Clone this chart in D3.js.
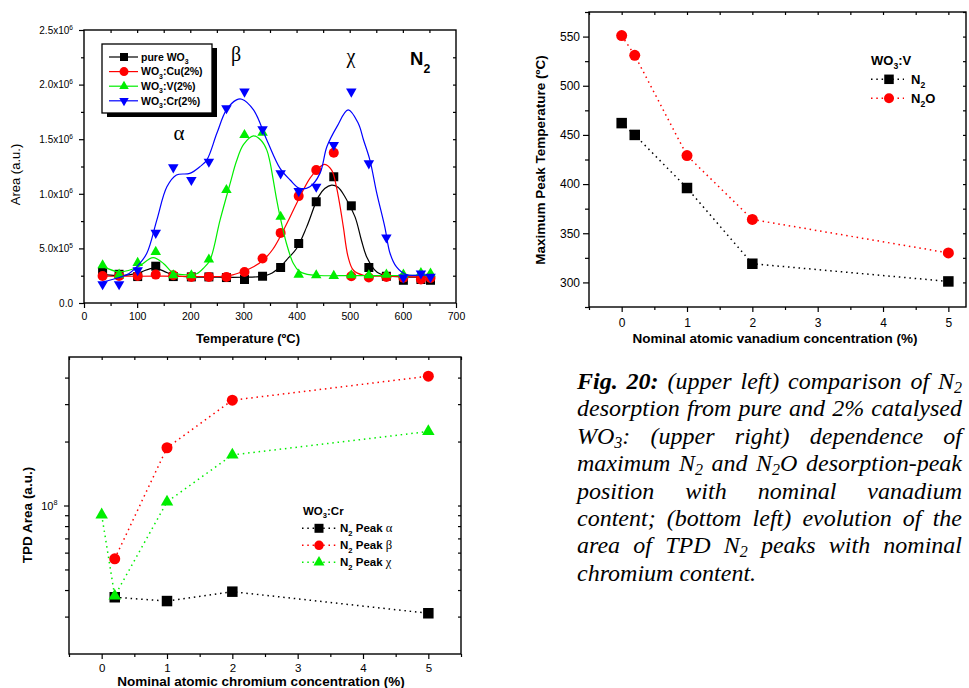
<!DOCTYPE html>
<html>
<head>
<meta charset="utf-8">
<title>Fig. 20 - N2 TPD on catalysed WO3</title>
<script src="https://cdn.jsdelivr.net/npm/d3@7/dist/d3.min.js"></script>
<style>
  html, body { margin: 0; padding: 0; background: #fff; }
  #fig { position: relative; width: 969px; height: 688px; overflow: hidden; background: #fff; }
  #fig svg { position: absolute; left: 0; top: 0; }
  .caption { position: absolute; left: 577px; top: 368px; width: 385px;
    font-family: "Liberation Serif", "Times New Roman", serif; font-style: italic; font-size: 24px; color: #000; }
  .caption .ln { position: absolute; left: 0; white-space: nowrap; line-height: 27.4px; }
  .caption sub { font-size: 16px; vertical-align: -4px; line-height: 0; }
  .caption b { font-weight: bold; }
</style>
</head>
<body>
<div id="fig"></div>
<script>
// ---------- upper left: N2 TPD peak areas vs temperature (area in 10^3 a.u.) ----------
const tpdTemps = [35, 66, 101, 135, 168, 202, 235, 268, 302, 336, 370, 404, 437, 470, 503, 536, 569, 601, 634, 652];
const pureArea = [284, 263, 242, 337, 242, 239, 239, 233, 215, 245, 325, 545, 927, 1156, 890, 325, 245, 208, 215, 208];
const cuArea   = [248, 248, 248, 260, 254, 239, 239, 239, 284, 407, 642, 979, 1217, 1376, 245, 233, 239, 232, 215, 230];
const vArea    = [346, 260, 367, 468, 254, 254, 398, 1034, 1538, 1560, 789, 260, 254, 248, 254, 254, 260, 260, 275, 270];
const crArea   = [172, 172, 300, 642, 1242, 1126, 1294, 1783, 1936, 1591, 1187, 1025, 1064, 1447, 1936, 1279, 600, 233, 270, 239];

// fitted envelopes [temperature, area]
const pureFit = [[35,262],[60,252],[85,258],[105,280],[125,315],[135,318],[150,292],[170,252],[200,240],[250,236],[300,236],[330,242],[350,265],[369,330],[385,415],[400,499],[419,697],[441,972],[453,1049],[466,1080],[478,1060],[491,973],[510,789],[522,575],[532,422],[551,284],[570,250],[600,240],[655,238]];
const cuFit   = [[35,245],[100,245],[150,246],[200,243],[260,245],[280,258],[300,291],[320,335],[337,392],[355,490],[369,606],[385,760],[400,912],[425,1141],[441,1233],[453,1270],[466,1217],[475,1064],[482,880],[488,697],[497,422],[507,300],[526,254],[560,245],[620,240],[655,238]];
const vFit    = [[35,335],[65,285],[85,300],[103,335],[130,415],[150,360],[165,285],[180,262],[200,260],[212,268],[225,320],[237,392],[256,759],[275,1095],[287,1300],[300,1450],[319,1530],[333,1490],[344,1400],[350,1290],[356,1130],[362,960],[369,789],[381,545],[394,361],[405,290],[420,262],[440,252],[500,250],[600,252],[655,258]];
const crFit   = [[35,193],[65,231],[85,270],[99,330],[118,453],[137,759],[156,1064],[174,1172],[199,1187],[218,1248],[231,1309],[250,1554],[268,1768],[287,1860],[297,1866],[319,1768],[344,1493],[369,1233],[388,1126],[406,1049],[425,1064],[444,1187],[457,1431],[476,1615],[497,1768],[516,1646],[526,1493],[538,1309],[551,1004],[566,697],[576,453],[588,330],[606,260],[630,255],[655,258]];

const tempTicks = [0, 100, 200, 300, 400, 500, 600, 700];
const areaTicks = [0, 500, 1000, 1500, 2000, 2500];
const areaTickLabels = ["0.0", "5.0x10{^5}", "1.0x10{^6}", "1.5x10{^6}", "2.0x10{^6}", "2.5x10{^6}"];

// ---------- upper right: peak temperature vs vanadium content ----------
const vConc = [0, 0.2, 1, 2, 5];
const vN2PeakT = [462, 450, 396, 319, 301];
const vN2OPeakT = [551, 531, 429, 364, 330];
const concTicks = [0, 1, 2, 3, 4, 5];
const peakTTicks = [300, 350, 400, 450, 500, 550];

// ---------- bottom left: TPD N2 peak areas vs chromium content ----------
const crConcAB = [0.2, 1, 2, 5];
const crPeakAlpha = [3.70e7, 3.55e7, 3.93e7, 3.11e7];
const crPeakBeta = [5.61e7, 1.87e8, 3.13e8, 4.06e8];
const crConcChi = [0, 0.2, 1, 2, 5];
const crPeakChi = [9.04e7, 3.75e7, 1.04e8, 1.73e8, 2.23e8];
const tpdAreaTicks = [1e8];
const tpdAreaTickLabels = ["10{^8}"];

const captionLines = [
  '<b>Fig. 20:</b> (upper left) comparison of N<sub>2</sub>',
  'desorption from pure and 2% catalysed',
  'WO<sub>3</sub>: (upper right) dependence of',
  'maximum N<sub>2</sub> and N<sub>2</sub>O desorption-peak',
  'position with nominal vanadium',
  'content; (bottom left) evolution of the',
  'area of TPD N<sub>2</sub> peaks with nominal',
  'chromium content.'
];

// ---------- helpers ----------
const SANS = '"Liberation Sans", Arial, sans-serif';
const SERIF = '"Liberation Serif", "Times New Roman", serif';

// writes "{_x}" as subscript, "{^x}" as superscript, "{gx}" in serif
function rich(sel, str, fs, subDrop = 0.3) {
  const parts = str.split(/(\{[_^g][^}]*\})/).filter(s => s.length);
  let cur = 0;
  for (const p of parts) {
    const m = p.match(/^\{([_^g])(.*)\}$/);
    let target = 0, size = fs, txt = p, serif = false;
    if (m) {
      txt = m[2];
      if (m[1] === "_") { target = subDrop * fs; size = 0.66 * fs; }
      else if (m[1] === "^") { target = -0.42 * fs; size = 0.66 * fs; }
      else { serif = true; size = fs * 1.1; }
    }
    const t = sel.append("tspan").text(txt).attr("font-size", size);
    if (target !== cur) { t.attr("dy", target - cur); cur = target; }
    if (serif) t.attr("font-family", SERIF).attr("font-weight", "normal");
  }
}

function symPath(kind, s) {
  if (kind === "square") return d3.symbol(d3.symbolSquare, s * s)();
  if (kind === "circle") return d3.symbol(d3.symbolCircle, Math.PI * s * s / 4)();
  return d3.symbol(d3.symbolTriangle, Math.sqrt(3) / 4 * s * s)();
}
const symRot = kind => kind === "down" ? " rotate(180)" : "";

function addAxis(g, orient, scale, at, values, size, opt = {}) {
  const make = { bottom: d3.axisBottom, top: d3.axisTop, left: d3.axisLeft, right: d3.axisRight }[orient];
  const gen = make(scale).tickValues(values).tickSizeInner(size).tickSizeOuter(0)
    .tickPadding(opt.pad ?? 3).tickFormat(() => "");
  const horiz = orient === "bottom" || orient === "top";
  const a = g.append("g").attr("transform", horiz ? `translate(0,${at})` : `translate(${at},0)`).call(gen);
  a.select(".domain").remove();
  a.selectAll(".tick line").attr("stroke", "#000").attr("stroke-width", 1.2);
  if (opt.labels) {
    a.attr("font-family", SANS).attr("font-size", opt.fs);
    a.selectAll(".tick text").attr("fill", "#000")
      .each(function (d, i) { rich(d3.select(this), opt.labels[i], opt.fs); });
  }
  return a;
}

function frame(g, x, y) {
  const [xa, xb] = x.range(), [ya, yb] = y.range();
  g.append("rect").attr("x", xa).attr("y", yb).attr("width", xb - xa).attr("height", ya - yb)
    .attr("fill", "none").attr("stroke", "#000").attr("stroke-width", 1.4);
}

function label(g, x, y, str, fs, o = {}) {
  const t = g.append("text").attr("x", x).attr("y", y)
    .attr("font-family", o.family || SANS).attr("font-size", fs)
    .attr("font-weight", o.bold ? "bold" : "normal").attr("text-anchor", o.anchor || "start").attr("fill", "#000");
  if (o.rotate) t.attr("transform", `rotate(-90,${x},${y})`);
  rich(t, str, fs, o.subDrop);
  return t;
}

const svg = d3.select("#fig").append("svg").attr("width", 969).attr("height", 688);

// ================= upper left panel =================
const x1 = d3.scaleLinear().domain([0, 700]).range([84, 456]);
const y1 = d3.scaleLinear().domain([0, 2500]).range([303, 30]);
const g1 = svg.append("g");
addAxis(g1, "bottom", x1, 303, tempTicks, 5, { pad: 4.5, labels: tempTicks.map(String), fs: 10.5 });
addAxis(g1, "bottom", x1, 303, d3.range(50, 700, 100), 3);
addAxis(g1, "left", y1, 84, areaTicks, 5, { pad: 6, labels: areaTickLabels, fs: 10 });
addAxis(g1, "left", y1, 84, d3.range(250, 2500, 500), 3);
addAxis(g1, "top", x1, 30, d3.range(50, 700, 50), -3);
addAxis(g1, "right", y1, 456, d3.range(250, 2500, 250), -3);

const series1 = [
  { name: "pure WO{_3}", color: "#000000", sym: "square", size: 9, area: pureArea, fit: pureFit },
  { name: "WO{_3}:Cu(2%)", color: "#ff0000", sym: "circle", size: 10, area: cuArea, fit: cuFit },
  { name: "WO{_3}:V(2%)", color: "#00ee00", sym: "up", size: 10.5, area: vArea, fit: vFit },
  { name: "WO{_3}:Cr(2%)", color: "#0000ff", sym: "down", size: 10.5, area: crArea, fit: crFit }
];
const fitLine = d3.line().x(d => x1(d[0])).y(d => y1(d[1])).curve(d3.curveCatmullRom.alpha(0.5));
series1.forEach(s => {
  g1.append("path").attr("d", fitLine(s.fit)).attr("fill", "none")
    .attr("stroke", s.color).attr("stroke-width", 1.2);
  g1.append("g").selectAll("path").data(tpdTemps.map((t, i) => [t, s.area[i]])).join("path")
    .attr("transform", d => `translate(${x1(d[0])},${y1(d[1])})` + symRot(s.sym))
    .attr("d", symPath(s.sym, s.size)).attr("fill", s.color);
});
frame(g1, x1, y1);

// legend with drop shadow
const lg1 = g1.append("g");
lg1.append("rect").attr("x", 107).attr("y", 48).attr("width", 110).attr("height", 69).attr("fill", "#000");
lg1.append("rect").attr("x", 102).attr("y", 44).attr("width", 110).attr("height", 69)
  .attr("fill", "#fff").attr("stroke", "#000").attr("stroke-width", 1.3);
series1.forEach((s, i) => {
  const yy = 57 + i * 14.6;
  lg1.append("line").attr("x1", 109).attr("x2", 138).attr("y1", yy).attr("y2", yy)
    .attr("stroke", s.color).attr("stroke-width", 1.2);
  lg1.append("path").attr("transform", `translate(124,${yy})` + symRot(s.sym))
    .attr("d", symPath(s.sym, s.size - 1)).attr("fill", s.color);
  label(lg1, 141, yy + 3.8, s.name, 10.5, { bold: true });
});

// peak names and gas label
label(g1, 179, 140, "α", 21, { family: SERIF, anchor: "middle" });
label(g1, 236, 61, "β", 20, { family: SERIF, anchor: "middle" });
label(g1, 351, 63, "χ", 20, { family: SERIF, anchor: "middle" });
label(g1, 410, 65, "N{_2}", 18.5, { bold: true, subDrop: 0.45 });

label(g1, 248, 343, "Temperature (ºC)", 13, { bold: true, anchor: "middle" });
label(g1, 19.5, 174.5, "Area (a.u.)", 13, { anchor: "middle", rotate: true });

// ================= upper right panel =================
const x2 = d3.scaleLinear().domain([-0.5, 5.27]).range([589, 966]);
const y2 = d3.scaleLinear().domain([275, 575]).range([307, 12]);
const g2 = svg.append("g");
addAxis(g2, "bottom", x2, 307, concTicks, 5, { pad: 6, labels: concTicks.map(String), fs: 12 });
addAxis(g2, "bottom", x2, 307, d3.range(-0.5, 5.2, 1), 3);
addAxis(g2, "left", y2, 589, peakTTicks, 6, { pad: 3, labels: peakTTicks.map(String), fs: 12 });
addAxis(g2, "left", y2, 589, d3.range(275, 576, 50), 4);
addAxis(g2, "top", x2, 12, d3.range(-0.5, 5.2, 0.5), -3);
addAxis(g2, "right", y2, 966, d3.range(300, 576, 25), -3);

const dotLine2 = d3.line().x(d => x2(d[0])).y(d => y2(d[1]));
const series2 = [
  { name: "N{_2}", color: "#000000", sym: "square", size: 10.5, vals: vN2PeakT },
  { name: "N{_2}O", color: "#ff0000", sym: "circle", size: 11, vals: vN2OPeakT }
];
series2.forEach(s => {
  g2.append("path").attr("d", dotLine2(vConc.map((c, i) => [c, s.vals[i]]))).attr("fill", "none")
    .attr("stroke", s.color).attr("stroke-width", 1.5).attr("stroke-dasharray", "1.5 3.8");
  g2.append("g").selectAll("path").data(vConc.map((c, i) => [c, s.vals[i]])).join("path")
    .attr("transform", d => `translate(${x2(d[0])},${y2(d[1])})`)
    .attr("d", symPath(s.sym, s.size)).attr("fill", s.color);
});
frame(g2, x2, y2);

label(g2, 871, 65, "WO{_3}:V", 13, { bold: true });
series2.forEach((s, i) => {
  const yy = 79.3 + i * 19;
  g2.append("line").attr("x1", 871).attr("x2", 904).attr("y1", yy).attr("y2", yy)
    .attr("stroke", s.color).attr("stroke-width", 1.5).attr("stroke-dasharray", "1.5 3.8");
  g2.append("path").attr("transform", `translate(889,${yy})`)
    .attr("d", symPath(s.sym, s.size - 1)).attr("fill", s.color);
  label(g2, 911, yy + 4.5, s.name, 13, { bold: true, subDrop: 0.35 });
});

label(g2, 775, 343, "Nominal atomic vanadium concentration (%)", 13.5, { bold: true, anchor: "middle" });
label(g2, 545, 160, "Maximum Peak Temperature (ºC)", 13.5, { bold: true, anchor: "middle", rotate: true });

// ================= bottom left panel =================
const x3 = d3.scaleLinear().domain([-0.5, 5.5]).range([69, 461]);
const y3 = d3.scaleLog().domain([2e7, 5e8]).range([654, 357]);
const g3 = svg.append("g");
addAxis(g3, "bottom", x3, 654, concTicks, 5, { pad: 5, labels: concTicks.map(String), fs: 11.5 });
addAxis(g3, "bottom", x3, 654, d3.range(-0.5, 5.6, 1), 3);
addAxis(g3, "left", y3, 69, tpdAreaTicks, 5, { pad: 6.5, labels: tpdAreaTickLabels, fs: 11 });
const logMinor = [3e7, 4e7, 5e7, 6e7, 7e7, 8e7, 9e7, 2e8, 3e8, 4e8];
addAxis(g3, "left", y3, 69, logMinor, 4);
addAxis(g3, "top", x3, 357, d3.range(-0.5, 5.6, 0.5), -3);
addAxis(g3, "right", y3, 461, tpdAreaTicks.concat(logMinor), -3);

const dotLine3 = d3.line().x(d => x3(d[0])).y(d => y3(d[1]));
const series3 = [
  { name: "N{_2} Peak {gα}", color: "#000000", sym: "square", size: 10.5, conc: crConcAB, vals: crPeakAlpha },
  { name: "N{_2} Peak {gβ}", color: "#ff0000", sym: "circle", size: 11, conc: crConcAB, vals: crPeakBeta },
  { name: "N{_2} Peak {gχ}", color: "#00ee00", sym: "up", size: 12.5, conc: crConcChi, vals: crPeakChi }
];
series3.forEach(s => {
  const pts = s.conc.map((c, i) => [c, s.vals[i]]);
  g3.append("path").attr("d", dotLine3(pts)).attr("fill", "none")
    .attr("stroke", s.color).attr("stroke-width", 1.5).attr("stroke-dasharray", "1.5 3.8");
  g3.append("g").selectAll("path").data(pts).join("path")
    .attr("transform", d => `translate(${x3(d[0])},${y3(d[1])})`)
    .attr("d", symPath(s.sym, s.size)).attr("fill", s.color);
});
frame(g3, x3, y3);

label(g3, 303, 515, "WO{_3}:Cr", 11.5, { bold: true });
series3.forEach((s, i) => {
  const yy = 528.3 + i * 17;
  g3.append("line").attr("x1", 302).attr("x2", 337).attr("y1", yy).attr("y2", yy)
    .attr("stroke", s.color).attr("stroke-width", 1.5).attr("stroke-dasharray", "1.5 3.8");
  g3.append("path").attr("transform", `translate(319,${yy})`)
    .attr("d", symPath(s.sym, s.size - 1.5)).attr("fill", s.color);
  label(g3, 340, yy + 4, s.name, 11.5, { bold: true, subDrop: 0.35 });
});

label(g3, 261, 686, "Nominal atomic chromium concentration (%)", 13.5, { bold: true, anchor: "middle" });
label(g3, 31.5, 515, "TPD Area (a.u.)", 13.5, { bold: true, anchor: "middle", rotate: true });

// ================= caption (justified lines) =================
const cap = d3.select("#fig").append("div").attr("class", "caption");
captionLines.forEach((ln, i) => {
  const row = cap.append("div").attr("class", "ln").style("top", (i * 27.4) + "px");
  const span = row.append("span").html(ln);
  if (i < captionLines.length - 1) {
    const w = span.node().getBoundingClientRect().width;
    const gaps = (span.text().match(/ /g) || []).length;
    if (gaps) span.style("word-spacing", ((385 - w) / gaps) + "px");
  }
});
</script>
</body>
</html>
